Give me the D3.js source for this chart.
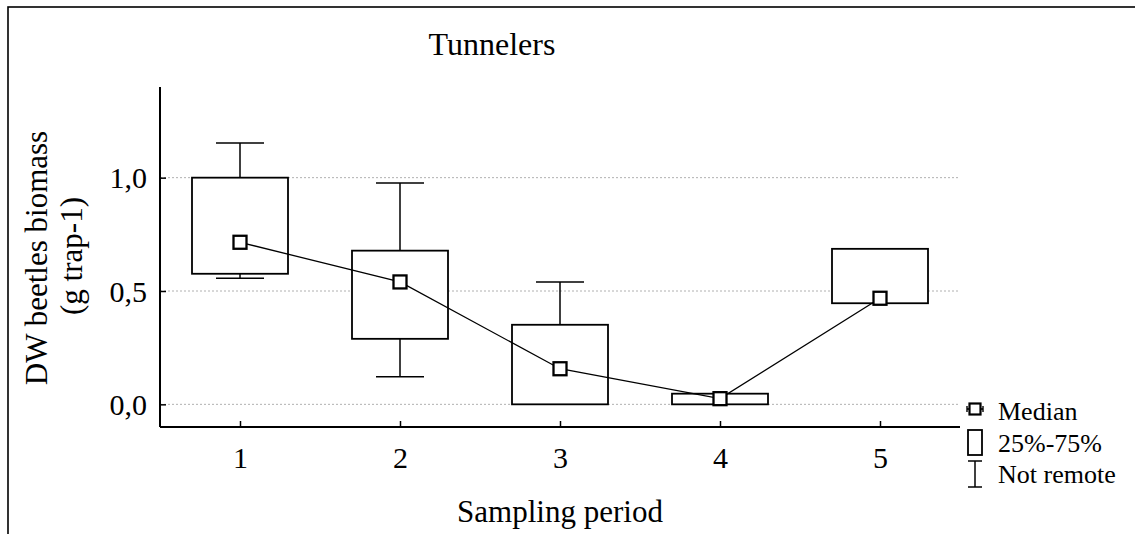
<!DOCTYPE html>
<html>
<head>
<meta charset="utf-8">
<script src="https://cdn.jsdelivr.net/npm/d3@7/dist/d3.min.js"></script>
<style>
  html, body { margin: 0; padding: 0; background: #fff; }
  svg { display: block; }
  text { font-family: "Liberation Serif", "Times New Roman", serif; fill: #000; }
</style>
</head>
<body>
<svg id="chart" width="1135" height="534"></svg>
<script>
// Tunnelers dry-weight biomass per sampling period (box plot summaries)
const periods     = [1, 2, 3, 4, 5];
const medians     = [0.715, 0.540, 0.157, 0.025, 0.468];
const q25         = [0.576, 0.289, 0.000, 0.000, 0.446];
const q75         = [1.000, 0.678, 0.351, 0.047, 0.686];
const whiskerLow  = [0.556, 0.122, 0.000, 0.000, 0.446];
const whiskerHigh = [1.153, 0.977, 0.540, 0.047, 0.686];
const yTicks      = [0.0, 0.5, 1.0];
const legendItems = ["Median", "25%-75%", "Not remote"];

const rows = periods.map((p, i) => ({
  p, med: medians[i], lo: q25[i], hi: q75[i], wl: whiskerLow[i], wh: whiskerHigh[i]
}));

const svg = d3.select("#chart");

// outer frame
svg.append("rect")
  .attr("x", 8).attr("y", 7).attr("width", 1140).attr("height", 540)
  .attr("fill", "none").attr("stroke", "#000").attr("stroke-width", 1.6);

const plot = { left: 160, right: 960, top: 87, bottom: 427 };

const x = d3.scaleLinear().domain([0.5, 5.5]).range([plot.left, plot.right]);
const y = d3.scaleLinear().domain([-0.1, 1.4]).range([plot.bottom, plot.top]);

// dotted grid lines
svg.append("g").selectAll("line").data(yTicks).join("line")
  .attr("x1", plot.left).attr("x2", plot.right)
  .attr("y1", d => y(d)).attr("y2", d => y(d))
  .attr("stroke", "#b0b0b0").attr("stroke-width", 1)
  .attr("stroke-dasharray", "2,2");

// axes
const yAxis = d3.axisLeft(y).tickValues(yTicks).tickSize(-6).tickPadding(13)
  .tickFormat(d => d3.format(".1f")(d).replace(".", ","));
const gy = svg.append("g").attr("transform", `translate(${plot.left},0)`).call(yAxis);
gy.select(".domain").attr("d", `M0,${plot.top}V${plot.bottom}`);

const xAxis = d3.axisBottom(x).tickValues(periods).tickSize(-6).tickPadding(20)
  .tickFormat(d3.format("d"));
const gx = svg.append("g").attr("transform", `translate(0,${plot.bottom})`).call(xAxis);
gx.select(".domain").attr("d", `M${plot.left},0H${plot.right}`);

[gx, gy].forEach(g => {
  g.select(".domain").attr("stroke", "#000").attr("stroke-width", 2);
  g.selectAll(".tick line").attr("stroke", "#000").attr("stroke-width", 1.5);
  g.selectAll(".tick text")
    .style("font-family", '"Liberation Serif", "Times New Roman", serif')
    .style("font-size", "30px").attr("fill", "#000");
});
gy.selectAll(".tick text").attr("dy", "0.34em");
gx.selectAll(".tick text").attr("dy", "0.71em");

const boxW = x(1.3) - x(1);
const capW = x(1.15) - x(1);

const boxes = svg.append("g");

// whiskers (drawn only where they extend beyond the box)
rows.forEach(r => {
  const cx = x(r.p);
  if (r.wh > r.hi) {
    boxes.append("line").attr("x1", cx).attr("x2", cx).attr("y1", y(r.hi)).attr("y2", y(r.wh))
      .attr("stroke", "#000").attr("stroke-width", 1.5);
    boxes.append("line").attr("x1", cx - capW).attr("x2", cx + capW).attr("y1", y(r.wh)).attr("y2", y(r.wh))
      .attr("stroke", "#000").attr("stroke-width", 1.5);
  }
  if (r.wl < r.lo) {
    boxes.append("line").attr("x1", cx).attr("x2", cx).attr("y1", y(r.lo)).attr("y2", y(r.wl))
      .attr("stroke", "#000").attr("stroke-width", 1.5);
    boxes.append("line").attr("x1", cx - capW).attr("x2", cx + capW).attr("y1", y(r.wl)).attr("y2", y(r.wl))
      .attr("stroke", "#000").attr("stroke-width", 1.5);
  }
});

// interquartile boxes
boxes.selectAll("rect").data(rows).join("rect")
  .attr("x", d => x(d.p) - boxW).attr("width", 2 * boxW)
  .attr("y", d => y(d.hi)).attr("height", d => y(d.lo) - y(d.hi))
  .attr("fill", "#fff").attr("stroke", "#000").attr("stroke-width", 1.8);

// line joining medians
svg.append("path").datum(rows)
  .attr("d", d3.line().x(d => x(d.p)).y(d => y(d.med)))
  .attr("fill", "none").attr("stroke", "#000").attr("stroke-width", 1.3);

// median markers
const mk = 13;
svg.append("g").selectAll("rect").data(rows).join("rect")
  .attr("x", d => x(d.p) - mk / 2).attr("y", d => y(d.med) - mk / 2)
  .attr("width", mk).attr("height", mk)
  .attr("fill", "#fff").attr("stroke", "#000").attr("stroke-width", 2.3);

// titles
svg.append("text").attr("x", 492).attr("y", 55).attr("text-anchor", "middle")
  .style("font-size", "32px").text("Tunnelers");
svg.append("text").attr("x", 560).attr("y", 522).attr("text-anchor", "middle")
  .style("font-size", "31px").text("Sampling period");
svg.append("text").attr("transform", "translate(47,258) rotate(-90)").attr("text-anchor", "middle")
  .style("font-size", "31px").text("DW beetles biomass");
svg.append("text").attr("transform", "translate(82,256) rotate(-90)").attr("text-anchor", "middle")
  .style("font-size", "31px").text("(g trap-1)");

// legend
const lg = svg.append("g");
const lx = 975;
const rowY = [409, 442, 474];
// median symbol
lg.append("line").attr("x1", lx - 8).attr("x2", lx + 8).attr("y1", rowY[0]).attr("y2", rowY[0])
  .attr("stroke", "#000").attr("stroke-width", 1.6);
[lx - 8, lx + 8].forEach(ex => lg.append("line").attr("x1", ex).attr("x2", ex)
  .attr("y1", rowY[0] - 3).attr("y2", rowY[0] + 3).attr("stroke", "#000").attr("stroke-width", 1.4));
lg.append("rect").attr("x", lx - 5.5).attr("y", rowY[0] - 5.5).attr("width", 11).attr("height", 11)
  .attr("fill", "#fff").attr("stroke", "#000").attr("stroke-width", 2.2);
// box symbol
lg.append("rect").attr("x", lx - 7).attr("y", rowY[1] - 12).attr("width", 14).attr("height", 25)
  .attr("fill", "#fff").attr("stroke", "#000").attr("stroke-width", 1.8);
// whisker symbol
lg.append("line").attr("x1", lx).attr("x2", lx).attr("y1", rowY[2] - 13).attr("y2", rowY[2] + 13)
  .attr("stroke", "#000").attr("stroke-width", 1.5);
[rowY[2] - 13, rowY[2] + 13].forEach(ey => lg.append("line").attr("x1", lx - 7).attr("x2", lx + 7)
  .attr("y1", ey).attr("y2", ey).attr("stroke", "#000").attr("stroke-width", 1.5));

lg.selectAll("text").data(legendItems).join("text")
  .attr("x", 998).attr("y", (d, i) => [420, 452, 483][i])
  .style("font-size", "26px").text(d => d);
</script>
</body>
</html>
